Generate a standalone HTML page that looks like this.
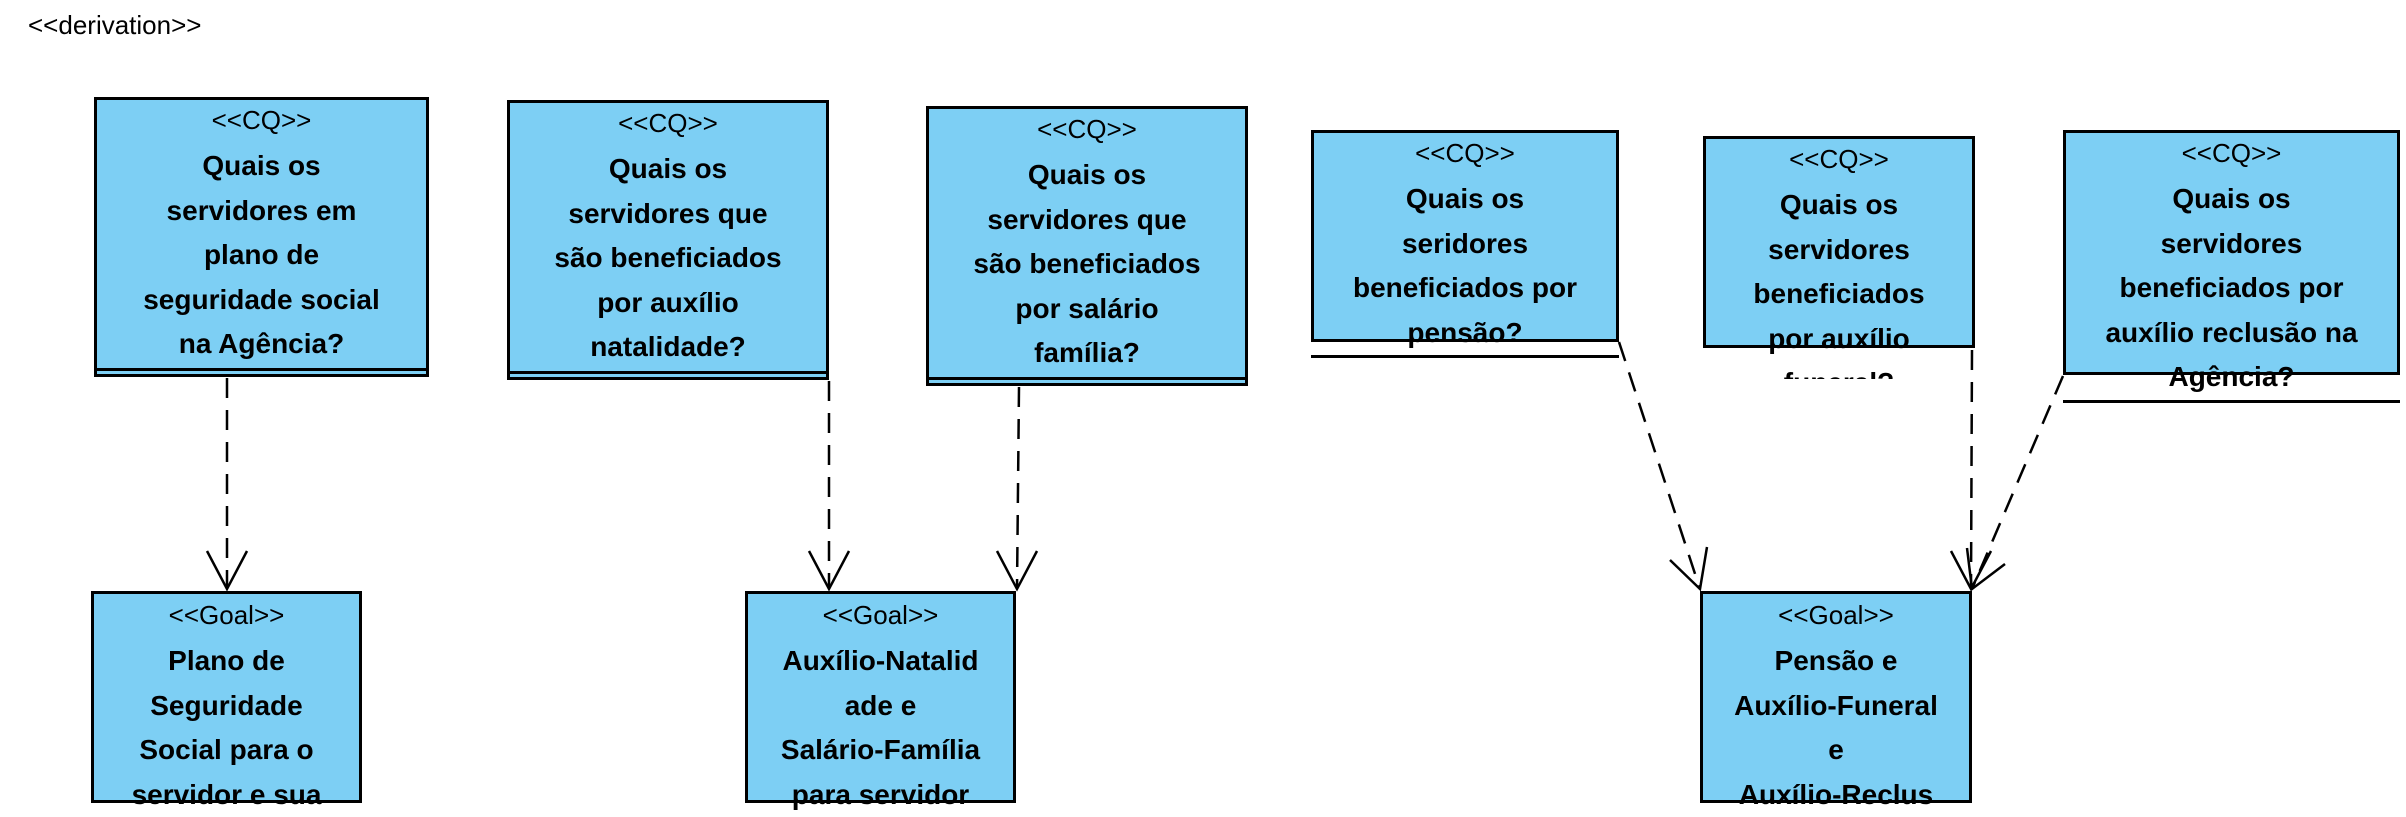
<!DOCTYPE html>
<html><head><meta charset="utf-8"><style>
body{margin:0;width:2406px;height:810px;background:#fff;position:relative;overflow:hidden;font-family:"Liberation Sans",sans-serif;}
.b{position:absolute;background:#7dcff4;border:3px solid #000;box-sizing:border-box;}
.t{position:absolute;left:0;right:0;text-align:center;color:#000;}
.s{font-size:26px;line-height:47px;height:47px;}
.q{font-size:28px;font-weight:bold;line-height:44.5px;white-space:nowrap;}
.ln{position:absolute;height:3px;background:#000;}
</style></head><body>
<div style="position:absolute;left:28px;top:10px;font-size:26px;">&lt;&lt;derivation&gt;&gt;</div>
<svg width="2406" height="810" style="position:absolute;left:0;top:0">
<g stroke="#000" stroke-width="2.5" fill="none">
<g stroke-dasharray="20,12">
<line x1="227" y1="378" x2="227" y2="589"/>
<line x1="829" y1="381" x2="829" y2="589"/>
<line x1="1019" y1="387" x2="1017" y2="589"/>
<line x1="1619" y1="342" x2="1700" y2="589"/>
<line x1="1972" y1="350" x2="1971" y2="589"/>
<line x1="2063" y1="376" x2="1972" y2="589"/>
</g>
<polyline points="207,551 227,589 247,551"/>
<polyline points="809,551 829,589 849,551"/>
<polyline points="997,551 1017,589 1037,551"/>
<polyline points="1670,560 1700,589 1707,547"/>
<polyline points="1951,551 1971,589 1991,551"/>
<polyline points="1967,548 1972,589 2005,564"/>
</g></svg>

<div class="b" style="left:94px;top:97px;width:335px;height:280px;">
<div class="t s" style="top:-3px">&lt;&lt;CQ&gt;&gt;</div>
<div class="t q" style="top:44px">Quais os<br>servidores em<br>plano de<br>seguridade social<br>na Agência?</div>
<div class="ln" style="left:0;right:0;top:268px"></div></div>

<div class="b" style="left:507px;top:100px;width:322px;height:280px;">
<div class="t s" style="top:-3px">&lt;&lt;CQ&gt;&gt;</div>
<div class="t q" style="top:44px">Quais os<br>servidores que<br>são beneficiados<br>por auxílio<br>natalidade?</div>
<div class="ln" style="left:0;right:0;top:268px"></div></div>

<div class="b" style="left:926px;top:106px;width:322px;height:280px;">
<div class="t s" style="top:-3px">&lt;&lt;CQ&gt;&gt;</div>
<div class="t q" style="top:44px">Quais os<br>servidores que<br>são beneficiados<br>por salário<br>família?</div>
<div class="ln" style="left:0;right:0;top:268px"></div></div>

<div class="b" style="left:1311px;top:130px;width:308px;height:212px;overflow:visible">
<div class="t s" style="top:-3px">&lt;&lt;CQ&gt;&gt;</div>
<div class="t q" style="top:44px">Quais os<br>seridores<br>beneficiados por<br>pensão?</div></div>
<div class="ln" style="left:1311px;width:308px;top:355px"></div>

<div style="position:absolute;left:1703px;top:136px;width:272px;height:243px;overflow:hidden">
<div class="b" style="left:0;top:0;width:272px;height:212px;position:absolute"></div>
<div class="t s" style="top:0">&lt;&lt;CQ&gt;&gt;</div>
<div class="t q" style="top:47px">Quais os<br>servidores<br>beneficiados<br>por auxílio<br>funeral?</div></div>

<div class="b" style="left:2063px;top:130px;width:337px;height:245px;">
<div class="t s" style="top:-3px">&lt;&lt;CQ&gt;&gt;</div>
<div class="t q" style="top:44px">Quais os<br>servidores<br>beneficiados por<br>auxílio reclusão na<br>Agência?</div></div>
<div class="ln" style="left:2063px;width:337px;top:400px"></div>

<div class="b" style="left:91px;top:591px;width:271px;height:212px;">
<div class="t s" style="top:-2px">&lt;&lt;Goal&gt;&gt;</div>
<div class="t q" style="top:45px">Plano de<br>Seguridade<br>Social para o<br>servidor e sua</div></div>

<div class="b" style="left:745px;top:591px;width:271px;height:212px;">
<div class="t s" style="top:-2px">&lt;&lt;Goal&gt;&gt;</div>
<div class="t q" style="top:45px">Auxílio-Natalid<br>ade e<br>Salário-Família<br>para servidor</div></div>

<div class="b" style="left:1700px;top:591px;width:272px;height:212px;">
<div class="t s" style="top:-2px">&lt;&lt;Goal&gt;&gt;</div>
<div class="t q" style="top:45px">Pensão e<br>Auxílio-Funeral<br>e<br>Auxílio-Reclus</div></div>
</body></html>
